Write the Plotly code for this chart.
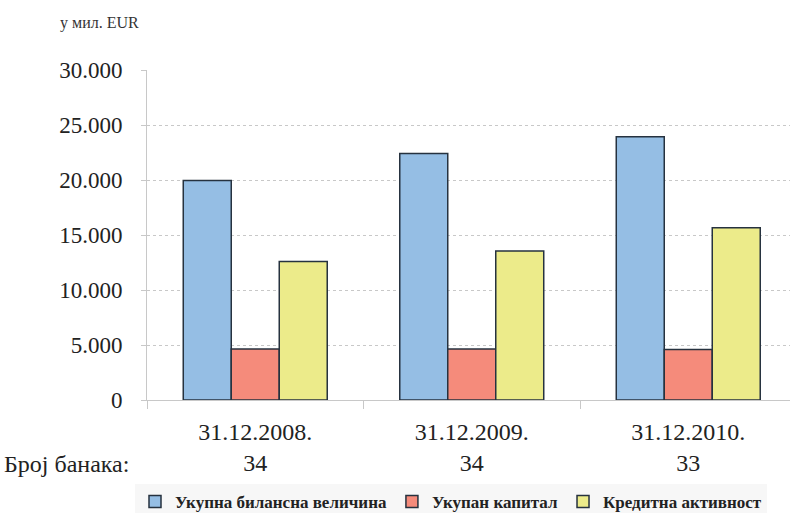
import plotly.graph_objects as go

dates = ["31.12.2008.", "31.12.2009.", "31.12.2010."]
bank_counts = ["34", "34", "33"]
total_assets = [19950, 22420, 23940]
total_capital = [4640, 4640, 4600]
credit_activity = [12600, 13550, 15660]
series_names = ["Укупна билансна величина", "Укупан капитал", "Кредитна активност"]
y_ticks = [0, 5000, 10000, 15000, 20000, 25000, 30000]
y_tick_labels = ["0", "5.000", "10.000", "15.000", "20.000", "25.000", "30.000"]

colors = ["#95BEE4", "#F58B7B", "#ECEB8A"]
edge = "#26323f"
serif = "Times New Roman, DejaVu Serif, serif"

cats = [f"{d}<br>{n}" for d, n in zip(dates, bank_counts)]

fig = go.Figure()
for name, vals, col in zip(series_names, [total_assets, total_capital, credit_activity], colors):
    fig.add_trace(go.Bar(
        x=cats, y=vals, name=name,
        marker=dict(color=col, line=dict(color=edge, width=1.5)),
    ))

W, H = 790, 513
L, R, T, B = 147, 0, 70, 113
pw = W - L - R
ph = H - T - B

fig.update_layout(
    width=W, height=H, autosize=False,
    margin=dict(l=L, r=R, t=T, b=B, pad=0, autoexpand=False),
    paper_bgcolor="white", plot_bgcolor="white",
    barmode="group", bargap=0.335, bargroupgap=0,
    font=dict(family=serif, color="#222222"),
    showlegend=True,
    legend=dict(
        orientation="h", x=(135 - L) / pw, xanchor="left",
        y=(H - B - 484) / ph, yanchor="top",
        font=dict(family=serif, size=17, color="#222222", weight="bold"),
        bgcolor="#f7f7f7", itemwidth=30, tracegroupgap=0,
    ),
    xaxis=dict(
        type="category", range=[-0.5, -0.5 + pw / 216.5], automargin=False,
        showgrid=False, showline=True, linecolor="#c8c8c8", linewidth=1,
        ticks="outside", tickson="boundaries", ticklen=8, tickcolor="#c8c8c8",
        tickfont=dict(family=serif, size=24, color="#222222"),
        ticklabelstandoff=10,
    ),
    yaxis=dict(
        range=[0, 30000], tickvals=y_ticks, ticktext=y_tick_labels, automargin=False,
        showgrid=True, gridcolor="#c8c8c8", griddash="dot", gridwidth=1,
        showline=True, linecolor="#c8c8c8", linewidth=1,
        ticks="outside", ticklen=5, tickcolor="#c8c8c8",
        tickfont=dict(family=serif, size=23, color="#222222"),
        ticklabelstandoff=14, zeroline=False,
    ),
    annotations=[
        dict(text="у мил. EUR", xref="paper", yref="paper",
             x=(58 - L) / pw, y=(H - B - 23) / ph,
             xanchor="left", yanchor="middle", showarrow=False,
             font=dict(family=serif, size=16, color="#333333")),
        dict(text="Број банака:", xref="paper", yref="paper",
             x=(2 - L) / pw, y=(400 - 464) / ph,
             xanchor="left", yanchor="middle", showarrow=False,
             font=dict(family=serif, size=24, color="#222222")),
    ],
)

fig.write_html("out.html")
